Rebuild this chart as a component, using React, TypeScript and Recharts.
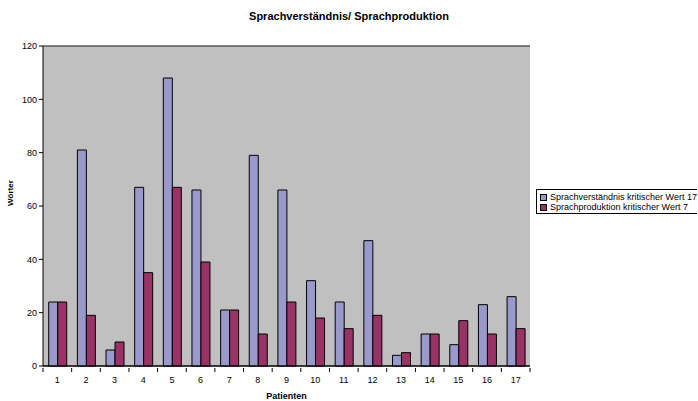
import React from 'react';
import { BarChart, Bar, XAxis, YAxis, CartesianGrid, ReferenceLine } from 'recharts';

const patienten = ['1', '2', '3', '4', '5', '6', '7', '8', '9', '10', '11', '12', '13', '14', '15', '16', '17'];
const sprachverstaendnis = [24, 81, 6, 67, 108, 66, 21, 79, 66, 32, 24, 47, 4, 12, 8, 23, 26];
const sprachproduktion = [24, 19, 9, 35, 67, 39, 21, 12, 24, 18, 14, 19, 5, 12, 17, 12, 14];
const yTicks = [0, 20, 40, 60, 80, 100, 120];

const seriesNames = ['Sprachverständnis kritischer Wert 17', 'Sprachproduktion kritischer Wert 7'];
const seriesColors = ['#9999CC', '#993366'];

const data = patienten.map((p, i) => ({
    patient: p,
    verstaendnis: sprachverstaendnis[i],
    produktion: sprachproduktion[i],
}));

const FONT = '"Liberation Sans", Arial, sans-serif';
const PLOT_LEFT = 43;
const PLOT_RIGHT = 530;
const BAND = (PLOT_RIGHT - PLOT_LEFT) / patienten.length;

// excel style: tick marks between categories, label in the middle
function CategoryTick(props: any) {
    const { x, y, payload, index } = props;
    const left = x - BAND / 2;
    return (
        <g>
            <line x1={left} y1={y - 6} x2={left} y2={y - 2} stroke="#000" />
            {index === patienten.length - 1 && (
                <line x1={left + BAND} y1={y - 6} x2={left + BAND} y2={y - 2} stroke="#000" />
            )}
            <text x={x} y={y + 9} textAnchor="middle" fontSize={9} fontFamily={FONT} fill="#000">
                {payload.value}
            </text>
        </g>
    );
}

function LegendBox() {
    return (
        <div
            style={{
                position: 'absolute',
                left: 536,
                top: 189,
                height: 25,
                border: '1px solid #000',
                borderRight: 'none',
                background: '#fff',
                padding: '3px 0 0 3px',
                boxSizing: 'border-box',
                fontFamily: FONT,
                fontSize: 9,
                lineHeight: '9.5px',
                whiteSpace: 'nowrap',
            }}
        >
            {seriesNames.map((name, i) => (
                <div key={name} style={{ display: 'flex', alignItems: 'center' }}>
                    <span
                        style={{
                            display: 'inline-block',
                            width: 5,
                            height: 5,
                            background: seriesColors[i],
                            border: '1px solid #000',
                            marginRight: 3,
                        }}
                    />
                    {name}
                </div>
            ))}
        </div>
    );
}

export default function App() {
    return (
        <div style={{ position: 'fixed', top: 0, left: 0, width: 698, height: 401, background: '#fff', overflow: 'hidden' }}>
            <div
                style={{
                    position: 'absolute',
                    top: 10,
                    left: 0,
                    width: 698,
                    textAlign: 'center',
                    fontFamily: FONT,
                    fontSize: 11,
                    lineHeight: '12px',
                    fontWeight: 'bold',
                }}
            >
                Sprachverständnis/ Sprachproduktion
            </div>
            <BarChart
                width={698}
                height={401}
                data={data}
                margin={{ top: 46, right: 168, left: 0, bottom: 0 }}
                barGap={0}
                barCategoryGap="20%"
            >
                <CartesianGrid vertical={false} stroke="#000" fill="#C0C0C0" />
                <XAxis
                    dataKey="patient"
                    height={35}
                    stroke="#000"
                    tickLine={false}
                    tick={<CategoryTick />}
                    interval={0}
                />
                <YAxis
                    yAxisId="left"
                    width={43}
                    domain={[0, 120]}
                    ticks={yTicks}
                    stroke="#000"
                    tickSize={4}
                    tickMargin={2}
                    tick={{ fontSize: 9, fontFamily: FONT, fill: '#000' }}
                    label={{ value: 'Wörter', angle: -90, position: 'insideLeft', offset: 10, fontSize: 8, fontWeight: 'bold', fontFamily: FONT, fill: '#000' }}
                />
                <YAxis yAxisId="frame" orientation="right" width={0} domain={[0, 120]} stroke="#808080" tick={false} tickLine={false} />
                <ReferenceLine yAxisId="left" y={120} stroke="#808080" />
                <Bar yAxisId="left" dataKey="verstaendnis" name={seriesNames[0]} fill={seriesColors[0]} stroke="#000" strokeWidth={1} isAnimationActive={false} />
                <Bar yAxisId="left" dataKey="produktion" name={seriesNames[1]} fill={seriesColors[1]} stroke="#000" strokeWidth={1} isAnimationActive={false} />
            </BarChart>
            <div
                style={{
                    position: 'absolute',
                    top: 391,
                    left: PLOT_LEFT,
                    width: PLOT_RIGHT - PLOT_LEFT,
                    textAlign: 'center',
                    fontFamily: FONT,
                    fontSize: 9,
                    lineHeight: '10px',
                    fontWeight: 'bold',
                }}
            >
                Patienten
            </div>
            <LegendBox />
        </div>
    );
}
